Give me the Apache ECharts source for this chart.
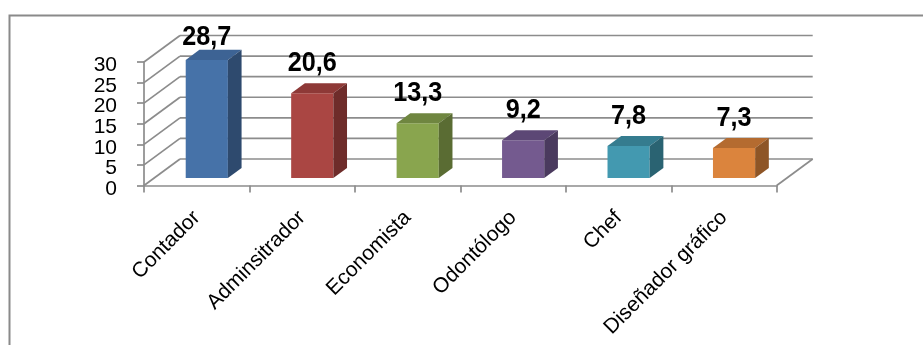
<!DOCTYPE html>
<html>
<head>
<meta charset="utf-8">
<script src="https://cdn.jsdelivr.net/npm/echarts@6/dist/echarts.min.js"></script>
<style>
  html, body { margin: 0; padding: 0; background: #ffffff; }
  #chart { width: 923px; height: 345px; }
</style>
</head>
<body>
<div id="chart"></div>
<script>
// Professions and their percentages
const categories = ['Contador', 'Adminsitrador', 'Economista', 'Odontólogo', 'Chef', 'Diseñador gráfico'];
const values = [28.7, 20.6, 13.3, 9.2, 7.8, 7.3];
const yTicks = [0, 5, 10, 15, 20, 25, 30];

// Face colours of each box: front, top, right side
const frontColors = ['#4672A8', '#AA4643', '#89A54E', '#745A8F', '#4399B0', '#DB843D'];
const topColors   = ['#3D6394', '#8E3937', '#6F8640', '#5C4775', '#357C8F', '#B46B30'];
const sideColors  = ['#2E4A6E', '#6E2C2A', '#5A6C33', '#4A3A5E', '#2A6372', '#8E5526'];

// Oblique projection of the depth axis (pixels for full depth)
const DEPTH_X = 36;
const DEPTH_Y = -26.5;
// Boxes occupy this slice of the depth and this share of a category band
const BAR_Z0 = 0.28;
const BAR_Z1 = 0.66;
const BAR_W = 0.4;
const GRID_COLOR = '#8c8c8c';

const fmt = v => v.toFixed(1).replace('.', ',');

const chart = echarts.init(document.getElementById('chart'), null, { renderer: 'canvas' });

// Back wall gridlines, floor edges and the value tick labels, one item per tick value
function renderWall(params, api) {
  const v = api.value(1);
  const band = api.size([1, 0])[0];
  const p = api.coord([0, v]);
  const xl = p[0] - band / 2;
  const xr = api.coord([categories.length - 1, v])[0] + band / 2;
  const y = p[1];
  const style = { stroke: GRID_COLOR, lineWidth: 1.7 };
  const children = [
    { type: 'line', shape: { x1: xl, y1: y, x2: xl + DEPTH_X, y2: y + DEPTH_Y }, style },
    { type: 'line', shape: { x1: xl + DEPTH_X, y1: y + DEPTH_Y, x2: xr + DEPTH_X, y2: y + DEPTH_Y }, style },
    { type: 'text', x: xl - 27, y: y + 3.5,
      style: { text: String(v), fill: '#000', align: 'right', verticalAlign: 'middle',
               font: '21px "Liberation Sans", Arial, sans-serif' } }
  ];
  if (v === 0) {
    children.push({ type: 'line', shape: { x1: xr, y1: y, x2: xr + DEPTH_X, y2: y + DEPTH_Y }, style });
  }
  return { type: 'group', children };
}

// Each value drawn as an oblique box with its value above it
function renderBox(params, api) {
  const i = api.value(0);
  const v = api.value(1);
  const band = api.size([1, 0])[0];
  const base = api.coord([i, 0]);
  const top = api.coord([i, v]);
  const w = band * BAR_W;
  const fx0 = base[0] - w / 2 + BAR_Z0 * DEPTH_X;
  const fx1 = fx0 + w;
  const fyB = base[1] + BAR_Z0 * DEPTH_Y;
  const fyT = top[1] + BAR_Z0 * DEPTH_Y;
  const ddx = (BAR_Z1 - BAR_Z0) * DEPTH_X;
  const ddy = (BAR_Z1 - BAR_Z0) * DEPTH_Y;
  const ceiling = api.coord([0, yTicks[yTicks.length - 1]])[1] - 24.5;
  const labelY = Math.max(fyT + ddy - 20, ceiling);
  return {
    type: 'group',
    children: [
      { type: 'rect', shape: { x: fx0, y: fyT, width: w, height: fyB - fyT },
        style: { fill: frontColors[i] } },
      { type: 'polygon', shape: { points: [[fx0, fyT], [fx1, fyT], [fx1 + ddx, fyT + ddy], [fx0 + ddx, fyT + ddy]] },
        style: { fill: topColors[i] } },
      { type: 'polygon', shape: { points: [[fx1, fyT], [fx1 + ddx, fyT + ddy], [fx1 + ddx, fyB + ddy], [fx1, fyB]] },
        style: { fill: sideColors[i] } },
      // condensed bold figures: regular face squeezed horizontally
      { type: 'text', x: (fx0 + fx1) / 2, y: labelY, scaleX: 0.9, scaleY: 1,
        style: { text: fmt(v), fill: '#000', align: 'center', verticalAlign: 'middle',
                 font: 'bold 28px "Liberation Sans", Arial, sans-serif' } }
    ]
  };
}

const option = {
  backgroundColor: '#ffffff',
  animation: false,
  graphic: [{
    type: 'rect', left: 7, top: 13, z: -10,
    shape: { width: 1000, height: 400 },
    style: { fill: 'none', stroke: '#8a8a8a', lineWidth: 2 }
  }],
  grid: { left: 144, right: 146.3, top: 62, bottom: 159.5 },
  xAxis: {
    type: 'category',
    data: categories,
    boundaryGap: true,
    axisLine: { show: true, lineStyle: { color: GRID_COLOR, width: 1.7 } },
    axisTick: { show: true, alignWithLabel: false, length: 7, lineStyle: { color: GRID_COLOR, width: 1.7 } },
    axisLabel: { interval: 0, rotate: 45, margin: 29, color: '#000', fontSize: 21, fontFamily: '"Liberation Sans", Arial, sans-serif' },
    splitLine: { show: false }
  },
  yAxis: {
    type: 'value',
    min: 0, max: 30, interval: 5,
    axisLine: { show: true, lineStyle: { color: GRID_COLOR, width: 1.7 } },
    axisTick: { show: true, inside: false, length: 7, lineStyle: { color: GRID_COLOR, width: 1.7 } },
    axisLabel: { show: false },
    splitLine: { show: false }
  },
  series: [
    {
      type: 'custom', name: 'wall', clip: false, silent: true, z: 1,
      data: yTicks.map(v => [0, v]),
      encode: { x: 0, y: 1 },
      renderItem: renderWall
    },
    {
      type: 'custom', name: 'boxes', clip: false, z: 2,
      data: values.map((v, i) => [i, v]),
      encode: { x: 0, y: 1 },
      renderItem: renderBox
    }
  ]
};

chart.setOption(option);
</script>
</body>
</html>
